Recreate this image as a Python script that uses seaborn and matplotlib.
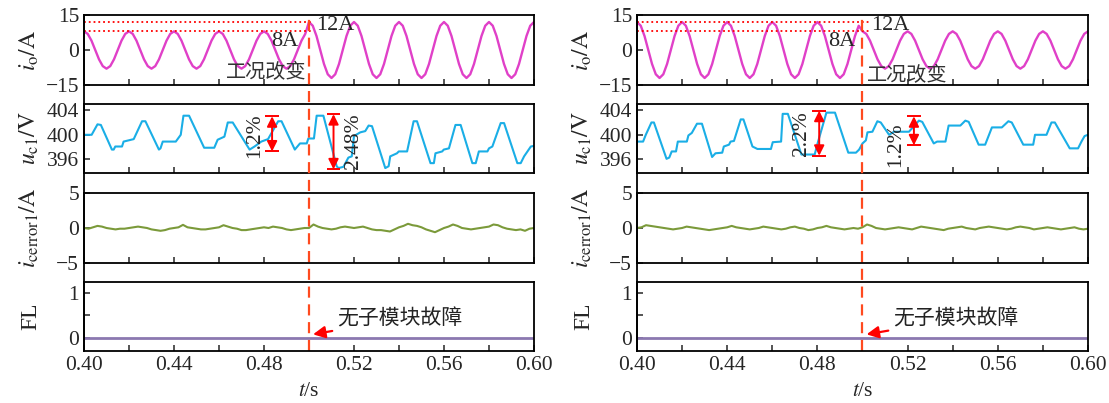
import numpy as np
import matplotlib
matplotlib.use("Agg")
import matplotlib.pyplot as plt
import seaborn as sns

# ---- data ----
# output current i_o, 12 samples per 20 ms period, 0.40 .. 0.60 s
t_io = np.linspace(0.40, 0.60, 121)
io_left = [
    8, 6.9, 4, 0, -4, -6.9, -8, -6.9, -4, 0, 4, 6.9,
    8, 6.9, 4, 0, -4, -6.9, -8, -6.9, -4, 0, 4, 6.9,
    8, 6.9, 4, 0, -4, -6.9, -8, -6.9, -4, 0, 4, 6.9,
    8, 6.9, 4, 0, -4, -6.9, -8, -6.9, -4, 0, 4, 6.9,
    8, 6.9, 4, 0, -4, -6.9, -8, -6.9, -4, 0, 4, 6.9,
    12, 10.4, 6, 0, -6, -10.4, -12, -10.4, -6, 0, 6, 10.4,
    12, 10.4, 6, 0, -6, -10.4, -12, -10.4, -6, 0, 6, 10.4,
    12, 10.4, 6, 0, -6, -10.4, -12, -10.4, -6, 0, 6, 10.4,
    12, 10.4, 6, 0, -6, -10.4, -12, -10.4, -6, 0, 6, 10.4,
    12, 10.4, 6, 0, -6, -10.4, -12, -10.4, -6, 0, 6, 10.4,
    12,
]
io_right = [
    12, 10.4, 6, 0, -6, -10.4, -12, -10.4, -6, 0, 6, 10.4,
    12, 10.4, 6, 0, -6, -10.4, -12, -10.4, -6, 0, 6, 10.4,
    12, 10.4, 6, 0, -6, -10.4, -12, -10.4, -6, 0, 6, 10.4,
    12, 10.4, 6, 0, -6, -10.4, -12, -10.4, -6, 0, 6, 10.4,
    12, 10.4, 6, 0, -6, -10.4, -12, -10.4, -6, 0, 6, 10.4,
    8, 6.9, 4, 0, -4, -6.9, -8, -6.9, -4, 0, 4, 6.9,
    8, 6.9, 4, 0, -4, -6.9, -8, -6.9, -4, 0, 4, 6.9,
    8, 6.9, 4, 0, -4, -6.9, -8, -6.9, -4, 0, 4, 6.9,
    8, 6.9, 4, 0, -4, -6.9, -8, -6.9, -4, 0, 4, 6.9,
    8, 6.9, 4, 0, -4, -6.9, -8, -6.9, -4, 0, 4, 6.9,
    8,
]
io_levels = [12, 8]

# capacitor voltage u_c1
t_uc_left = [0.4000, 0.4034, 0.4060, 0.4075, 0.4124, 0.4132, 0.4139, 0.4169, 0.4176, 0.4221,
             0.4258, 0.4273, 0.4333, 0.4340, 0.4350, 0.4408, 0.4430, 0.4442, 0.4467, 0.4534,
             0.4579, 0.4594, 0.4624, 0.4639, 0.4661, 0.4736, 0.4758, 0.4788, 0.4818, 0.4863,
             0.4878, 0.4937, 0.4960, 0.4990, 0.4997, 0.5022, 0.5034, 0.5064, 0.5123, 0.5131,
             0.5153, 0.5175, 0.5190, 0.5200, 0.5228, 0.5250, 0.5265, 0.5280, 0.5339, 0.5354,
             0.5361, 0.5391, 0.5399, 0.5436, 0.5465, 0.5480, 0.5540, 0.5555, 0.5562, 0.5592,
             0.5599, 0.5622, 0.5651, 0.5674, 0.5726, 0.5741, 0.5755, 0.5793, 0.5800, 0.5815,
             0.5852, 0.5867, 0.5926, 0.5941, 0.5956, 0.5986, 0.6000]
uc_left = [400.0, 400.0, 401.7, 401.6, 397.6, 397.6, 398.1, 398.1, 398.9, 399.3,
           402.2, 402.2, 397.6, 397.8, 398.9, 398.9, 400.0, 403.1, 403.1, 397.9,
           397.9, 399.2, 399.7, 402.0, 402.0, 397.6, 398.1, 398.9, 399.3, 402.2,
           402.2, 397.6, 398.6, 398.6, 399.4, 399.4, 403.1, 403.1, 394.9, 394.6,
           394.8, 396.3, 396.5, 399.8, 400.4, 400.6, 401.5, 401.4, 394.6, 394.9,
           396.5, 397.0, 397.3, 397.3, 402.2, 402.2, 395.4, 395.4, 397.0, 397.3,
           397.6, 397.8, 401.6, 401.6, 395.4, 395.4, 397.3, 397.3, 397.8, 398.1,
           401.9, 401.9, 395.4, 395.4, 396.5, 398.1, 398.2]
t_uc_right = [0.4000, 0.4027, 0.4039, 0.4064, 0.4075, 0.4131, 0.4143, 0.4154, 0.4173, 0.4181,
              0.4221, 0.4228, 0.4243, 0.4266, 0.4288, 0.4333, 0.4348, 0.4378, 0.4385, 0.4408,
              0.4415, 0.4430, 0.4460, 0.4472, 0.4512, 0.4534, 0.4594, 0.4602, 0.4639, 0.4646,
              0.4669, 0.4729, 0.4788, 0.4800, 0.4840, 0.4878, 0.4937, 0.4971, 0.4985, 0.5000,
              0.5015, 0.5022, 0.5044, 0.5066, 0.5081, 0.5118, 0.5140, 0.5206, 0.5250, 0.5265,
              0.5316, 0.5331, 0.5368, 0.5382, 0.5434, 0.5456, 0.5471, 0.5515, 0.5544, 0.5574,
              0.5618, 0.5647, 0.5662, 0.5713, 0.5757, 0.5765, 0.5816, 0.5838, 0.5853, 0.5919,
              0.5956, 0.5971, 0.5985, 0.6000]
uc_right = [398.9, 398.9, 400.0, 402.0, 402.0, 396.1, 396.3, 397.3, 397.3, 398.9,
            398.9, 399.9, 400.3, 401.8, 401.8, 396.4, 397.0, 397.1, 398.1, 398.4,
            398.9, 399.0, 402.5, 402.5, 398.1, 397.7, 397.7, 398.8, 398.9, 403.4,
            403.4, 396.8, 396.8, 398.5, 403.6, 403.6, 397.1, 397.1, 397.6, 398.6,
            399.1, 400.4, 400.5, 402.2, 402.0, 400.0, 400.5, 400.5, 402.3, 402.1,
            398.6, 398.9, 398.9, 401.5, 401.5, 402.3, 402.1, 398.4, 398.4, 401.2,
            401.2, 402.2, 402.0, 398.4, 398.4, 400.0, 400.0, 402.0, 402.0, 397.8,
            397.8, 398.9, 399.8, 400.0]

# ripple markers: (t, low, high, label, label t, label v)
rip_left = [(0.4836, 397.3, 403.0, "1.2%", 0.4758, 399.8),
            (0.5109, 394.4, 403.35, "2.48%", 0.5198, 399.0)]
rip_right = [(0.4808, 396.6, 403.9, "2.2%", 0.4729, 400.2),
             (0.5228, 398.3, 403.0, "1.2%", 0.5147, 398.4)]

# current error, sampled every 2 ms
t_err = np.linspace(0.40, 0.60, 101)
err_left = [0.0, -0.1, 0.1, 0.3, 0.2, 0.0, -0.1, -0.2, -0.1, -0.1,
            0.0, 0.1, 0.2, 0.1, 0.0, -0.2, -0.3, -0.4, -0.3, -0.1,
            0.0, 0.1, 0.45, 0.1, 0.0, -0.1, -0.2, -0.2, -0.1, 0.0,
            0.1, 0.4, 0.2, 0.0, -0.1, -0.3, -0.3, -0.2, -0.1, 0.0,
            0.1, 0.0, 0.2, 0.1, 0.0, -0.2, -0.3, -0.2, -0.1, 0.0,
            0.0, 0.5, 0.2, 0.0, -0.1, -0.2, -0.1, 0.1, 0.2, 0.1,
            0.0, 0.1, 0.2, 0.0, -0.2, -0.3, -0.3, -0.4, -0.5, -0.2,
            0.1, 0.3, 0.6, 0.4, 0.3, 0.1, -0.2, -0.4, -0.6, -0.3,
            0.0, 0.2, 0.5, 0.3, 0.0, -0.1, -0.2, -0.1, 0.0, 0.1,
            0.2, 0.5, 0.4, 0.1, -0.1, -0.2, -0.3, -0.2, -0.4, -0.1,
            0.0]
err_right = [0.0, 0.1, 0.4, 0.3, 0.2, 0.1, 0.0, -0.1, -0.2, -0.1,
             0.0, 0.2, 0.1, 0.0, -0.1, -0.2, -0.3, -0.2, -0.1, 0.0,
             0.1, 0.3, 0.1, 0.0, -0.1, -0.2, -0.1, 0.0, 0.2, 0.1,
             0.0, -0.1, -0.2, -0.1, 0.1, 0.2, 0.0, -0.1, -0.3, -0.2,
             0.0, 0.1, 0.3, 0.1, 0.0, -0.1, -0.2, -0.1, 0.0, -0.1,
             0.1, 0.5, 0.3, 0.0, -0.1, -0.2, -0.1, 0.0, 0.1, 0.0,
             -0.1, -0.2, 0.0, 0.2, 0.1, 0.0, -0.1, -0.2, -0.3, -0.1,
             0.0, 0.1, 0.2, 0.0, -0.1, -0.2, 0.0, 0.1, 0.2, 0.1,
             0.0, -0.1, -0.2, -0.1, 0.1, 0.2, 0.1, 0.0, -0.2, -0.1,
             0.0, 0.1, 0.0, -0.1, -0.2, -0.1, 0.0, 0.1, -0.1, -0.2,
             -0.1]

# fault flag
t_fl = [0.40, 0.60]
fl_vals = [0, 0]

t_change = 0.50
x_ticks = [0.40, 0.44, 0.48, 0.52, 0.56, 0.60]

# ---- style ----
sns.set_style("ticks")
plt.rcParams["font.family"] = ["Liberation Serif", "Noto Sans CJK SC"]
plt.rcParams["mathtext.fontset"] = "stix"
plt.rcParams["axes.linewidth"] = 1.3

C_IO = "#e040c8"
C_UC = "#1aaee6"
C_ERR = "#7b9a3a"
C_FL = "#8b78b0"
C_DASH = "#ff4a1f"

fig = plt.figure(figsize=(11.09, 4.03), dpi=100)

rows = [(0.78908, 0.17370), (0.57072, 0.17122), (0.34739, 0.17370), (0.12903, 0.17122)]
cols = [(0.07574, 0.40577), (0.57439, 0.40667)]

panels = [
    dict(io=io_left, t_uc=t_uc_left, uc=uc_left, rip=rip_left, err=err_left,
         lvl_end=0.5009, t12=0.5031, t8=0.4951, t_txt=0.4991, v_txt=-9.9,
         ha_txt="right", t_fault=0.5124),
    dict(io=io_right, t_uc=t_uc_right, uc=uc_right, rip=rip_right, err=err_right,
         lvl_end=0.5029, t12=0.5038, t8=0.4967, t_txt=0.5020, v_txt=-11.3,
         ha_txt="left", t_fault=0.5135),
]

FS = 15.5
FS_LAB = 17

for (x0, w), p in zip(cols, panels):
    axes = [fig.add_axes([x0, b, w, h]) for b, h in rows]
    a1, a2, a3, a4 = axes

    sns.lineplot(x=t_io, y=p["io"], ax=a1, color=C_IO, lw=1.7, estimator=None, sort=False)
    a1.hlines(io_levels, 0.40, p["lvl_end"], colors="red", linestyles=":", lw=1.3)
    a1.text(p["t12"], 10.7, "12A", fontsize=16, va="center", ha="left")
    a1.text(p["t8"], 3.5, "8A", fontsize=16, va="center", ha="right")
    a1.text(p["t_txt"], p["v_txt"], "工况改变", fontsize=14.5, va="center",
            ha=p["ha_txt"], color="#333333")
    a1.set_ylim(-15, 15)
    a1.set_yticks([-15, 0, 15])
    a1.set_ylabel(r"$i_\mathrm{o}/\mathrm{A}$", fontsize=FS_LAB)

    sns.lineplot(x=p["t_uc"], y=p["uc"], ax=a2, color=C_UC, lw=1.5, estimator=None, sort=False)
    for tr, lo, hi, lab, tl, vl in p["rip"]:
        a2.annotate("", xy=(tr, hi), xytext=(tr, lo),
                    arrowprops=dict(arrowstyle="<|-|>", color="red", lw=1.4,
                                    mutation_scale=15, shrinkA=0, shrinkB=0))
        a2.hlines([lo, hi], tr - 0.003, tr + 0.003, colors="red", lw=1.4)
        a2.text(tl, vl, lab, fontsize=FS, rotation=90, va="center", ha="center")
    a2.set_ylim(393.8, 405)
    a2.set_yticks([396, 400, 404])
    a2.set_ylabel(r"$u_\mathrm{c1}/\mathrm{V}$", fontsize=FS_LAB)

    sns.lineplot(x=t_err, y=p["err"], ax=a3, color=C_ERR, lw=1.5, estimator=None, sort=False)
    a3.set_ylim(-5, 5)
    a3.set_yticks([-5, 0, 5])
    a3.set_ylabel(r"$i_\mathrm{cerror1}/\mathrm{A}$", fontsize=FS_LAB)

    sns.lineplot(x=t_fl, y=fl_vals, ax=a4, color=C_FL, lw=2, estimator=None, sort=False)
    a4.set_ylim(-0.29, 1.244)
    a4.set_yticks([0, 1])
    a4.set_yticks([0.5], minor=True)
    a4.set_ylabel("FL", fontsize=FS_LAB)
    a4.annotate("无子模块故障", xy=(t_change + 0.0018, 0.08), xytext=(p["t_fault"], 0.42),
                fontsize=15, va="center", ha="left", color="#222222",
                arrowprops=dict(arrowstyle="-|>", color="red", lw=1.6,
                                mutation_scale=18, shrinkA=1, shrinkB=0))
    a4.set_xlabel(r"$t$/s", fontsize=FS, labelpad=5)

    for ax in axes:
        ax.set_xlim(0.40, 0.60)
        ax.set_xticks(x_ticks)
        ax.set_xticks([0.42, 0.46, 0.50, 0.54, 0.58], minor=True)
        ax.tick_params(which="both", direction="in", length=4.5, width=1.1,
                       top=False, right=False, labelsize=FS)
        ax.yaxis.set_label_coords(-0.095, 0.5)
        for s in ax.spines.values():
            s.set_visible(True)
            s.set_color("black")
        if ax is not a4:
            ax.tick_params(labelbottom=False)
            ax.set_xlabel("")
        ax.set_facecolor("white")

    a4.xaxis.set_major_formatter(matplotlib.ticker.FormatStrFormatter("%.2f"))

    # dashed change line and continuous left frame through the gaps
    span = (rows[0][0] + rows[0][1] - rows[3][0]) / rows[3][1]
    a4.axvline(t_change, 0, span, color=C_DASH, lw=1.6, ls=(0, (5, 3)), clip_on=False)
    a4.axvline(0.40, 0, span, color="black", lw=1.3, clip_on=False)

fig.savefig("out.png", dpi=100)
